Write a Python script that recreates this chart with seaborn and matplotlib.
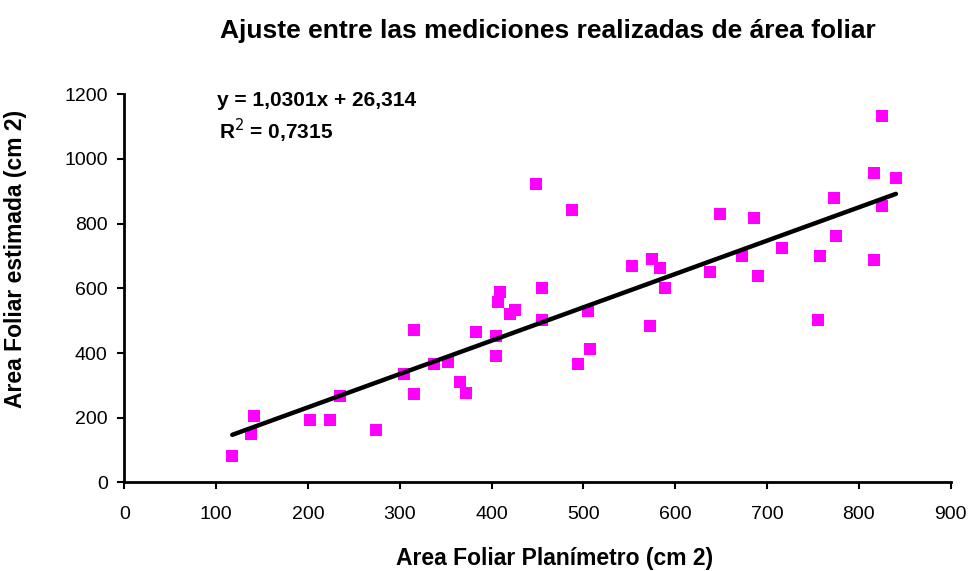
import numpy as np
import pandas as pd
import seaborn as sns
from matplotlib import pyplot as plt

# leaf area: planimeter (x) vs estimated (y), cm2
planimetro = [117.5, 137.5, 141.5, 202.4, 224.0, 235.0, 274.6, 304.7, 315.6, 315.6,
              337.0, 352.6, 365.3, 372.6, 383.4, 405.2, 405.2, 407.0, 408.8, 420.4,
              425.2, 448.7, 455.2, 455.2, 487.9, 494.4, 505.3, 507.5, 553.2, 572.0,
              575.0, 583.7, 588.7, 638.1, 649.0, 672.9, 686.0, 690.4, 716.4, 755.6,
              757.8, 773.0, 775.2, 816.5, 816.5, 825.2, 825.2, 840.4]
estimada = [81, 149, 205, 193, 193, 267, 162, 334, 273, 471,
            365, 373, 311, 278, 464, 452, 391, 559, 588, 520,
            533, 923, 601, 502, 842, 366, 531, 414, 669, 483,
            690, 662, 600, 651, 830, 701, 817, 638, 725, 502,
            700, 879, 762, 958, 688, 1133, 855, 941]

pendiente = 1.0301
intercepto = 26.314
r2 = 0.7315

xticks = list(range(0, 1000, 100))
yticks = list(range(0, 1400, 200))

df = pd.DataFrame({"x": planimetro, "y": estimada})
xs = np.array([df["x"].min(), df["x"].max()])
fit = pd.DataFrame({"x": xs, "y": pendiente * xs + intercepto})

sns.set_theme(style="ticks")
plt.rcParams['font.family'] = ['Liberation Sans', 'DejaVu Sans']
plt.rcParams['text.color'] = 'black'
plt.rcParams['axes.labelcolor'] = 'black'

fig = plt.figure(figsize=(9.72, 5.71), dpi=100)
ax = fig.add_axes([0.128, 0.155, 0.850, 0.680])

sns.scatterplot(data=df, x="x", y="y", marker="s", color="#FF00FF", s=80,
                linewidth=0, ax=ax, zorder=2)
sns.lineplot(data=fit, x="x", y="y", color="black", linewidth=3.2, ax=ax, zorder=3)

ax.set_xlim(0, 900)
ax.set_ylim(0, 1200)
ax.set_xticks(xticks)
ax.set_yticks(yticks)
ax.tick_params(axis='both', labelsize=14, colors='black', width=1.5, length=5)
ax.tick_params(axis='x', pad=12)
ax.tick_params(axis='y', pad=7)
for s in ['top', 'right']:
    ax.spines[s].set_visible(False)
for s in ['left', 'bottom']:
    ax.spines[s].set_color('black')
    ax.spines[s].set_linewidth(2)

ax.set_xlabel("Area Foliar Planímetro (cm 2)", fontsize=16.5, fontweight='bold')
ax.set_ylabel("Area Foliar estimada (cm 2)", fontsize=16.5, fontweight='bold')
ax.xaxis.set_label_coords(0.521, -0.165)
ax.yaxis.set_label_coords(-0.118, 0.575)

ax.text(0.112, 0.985, "y = {:.4f}x + {:.3f}".format(pendiente, intercepto).replace('.', ','),
        transform=ax.transAxes, fontsize=15, fontweight='bold', va='center')
ax.text(0.114, 0.905, "R$^2$ = {:.4f}".format(r2).replace('.', ','),
        transform=ax.transAxes, fontsize=15, fontweight='bold', va='center')

fig.text(0.564, 0.945, "Ajuste entre las mediciones realizadas de área foliar",
         fontsize=19, fontweight='bold', ha='center', va='center')

fig.savefig("out.png", dpi=100)
